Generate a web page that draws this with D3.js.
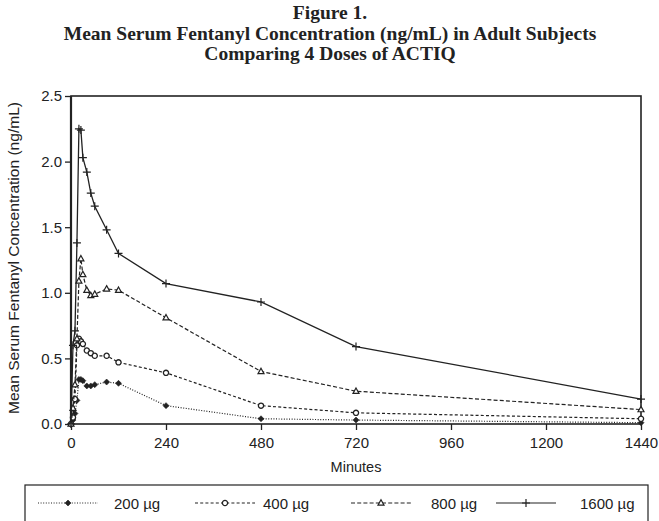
<!DOCTYPE html>
<html>
<head>
<meta charset="utf-8">
<script src="https://cdn.jsdelivr.net/npm/d3@7"></script>
<style>
  body { margin: 0; background: #fff; }
  svg text { fill: #222; }
</style>
</head>
<body>
<svg id="chart" width="659" height="521"></svg>
<script>
// Sampling times (minutes)
const minutes = [0, 5, 10, 15, 20, 25, 30, 40, 50, 60, 90, 120, 240, 480, 720, 1440];

// Mean serum fentanyl concentration (ng/mL) per dose
const dose200  = [0, 0.03, 0.08, 0.18, 0.34, 0.34, 0.33, 0.29, 0.29, 0.30, 0.32, 0.31, 0.14, 0.04, 0.03, 0.01];
const dose400  = [0, 0.05, 0.19, 0.60, 0.65, 0.63, 0.61, 0.56, 0.54, 0.52, 0.52, 0.47, 0.39, 0.14, 0.085, 0.04];
const dose800  = [0, 0.12, 0.30, 0.65, 1.09, 1.26, 1.14, 1.02, 0.98, 0.99, 1.03, 1.02, 0.81, 0.40, 0.25, 0.11];
const dose1600 = [0, 0.60, 0.71, 1.38, 2.25, 2.24, 2.03, 1.92, 1.76, 1.66, 1.48, 1.30, 1.07, 0.93, 0.59, 0.19];

const seriesNames = ["200 µg", "400 µg", "800 µg", "1600 µg"];
const seriesValues = [dose200, dose400, dose800, dose1600];

const xTicks = [0, 240, 480, 720, 960, 1200, 1440];
const yTicks = [0, 0.5, 1.0, 1.5, 2.0, 2.5];

// Set up dimensions and margins
const margin = { top: 96, right: 18, bottom: 97, left: 71 };
const width = 659 - margin.left - margin.right;
const height = 521 - margin.top - margin.bottom;

const ink = "#222";
const sans = "'Liberation Sans', Arial, sans-serif";
const dashes = ["1,1.6", "3,2.2", "4,2.2", null];
const shapes = ["diamond", "circle", "triangle", "plus"];

const root = d3.select("#chart");
const svg = root.append("g")
    .attr("transform", `translate(${margin.left},${margin.top})`);

// Scales
const x = d3.scaleLinear().domain([0, 1440]).range([0, width]);
const y = d3.scaleLinear().domain([0, 2.5]).range([height, 0]);

// Title
const titleLines = ["Figure 1.", "Mean Serum Fentanyl Concentration (ng/mL) in Adult Subjects", "Comparing 4 Doses of ACTIQ"];
root.selectAll(".title")
    .data(titleLines)
    .enter()
    .append("text")
    .attr("class", "title")
    .attr("x", 330)
    .attr("y", (d, i) => [19, 40, 59.5][i])
    .attr("text-anchor", "middle")
    .style("font-family", "'Liberation Serif', 'Times New Roman', serif")
    .style("font-weight", "bold")
    .style("font-size", "19.5px")
    .text(d => d);

// Axes
const xAxis = svg.append("g")
    .attr("transform", `translate(0,${height})`)
    .call(d3.axisBottom(x).tickValues(xTicks).tickSize(6).tickPadding(7).tickFormat(d3.format("d")));

const yAxis = svg.append("g")
    .call(d3.axisLeft(y).tickValues(yTicks).tickSize(6).tickPadding(3).tickFormat(d3.format(".1f")));

[xAxis, yAxis].forEach(a => {
    a.select(".domain").remove();
    a.selectAll("line").attr("stroke", ink).attr("stroke-width", 1.3);
    a.selectAll("text")
        .style("font-family", sans)
        .style("font-size", "15px")
        .attr("fill", "#333");
});

// Plot frame
svg.append("rect")
    .attr("x", 0).attr("y", 0)
    .attr("width", width).attr("height", height)
    .attr("fill", "none")
    .attr("stroke", ink)
    .attr("stroke-width", 1.6);
svg.append("line")
    .attr("x1", 0).attr("x2", 0).attr("y1", 0).attr("y2", height)
    .attr("stroke", ink).attr("stroke-width", 2.2);

// Axis labels
svg.append("text")
    .attr("x", width / 2)
    .attr("y", height + 48)
    .attr("text-anchor", "middle")
    .style("font-family", sans)
    .style("font-size", "14.5px")
    .text("Minutes");

svg.append("text")
    .attr("transform", "rotate(-90)")
    .attr("x", -height / 2 + 2)
    .attr("y", -margin.left + 19)
    .attr("text-anchor", "middle")
    .attr("textLength", 312)
    .attr("lengthAdjust", "spacingAndGlyphs")
    .style("font-family", sans)
    .style("font-size", "14.5px")
    .text("Mean Serum Fentanyl Concentration (ng/mL)");

// Marker drawing
function marker(g, shape) {
    if (shape === "diamond") {
        g.append("path").attr("d", "M0,-3L3,0L0,3L-3,0Z").attr("fill", ink).attr("stroke", ink).attr("stroke-width", 0.6);
    } else if (shape === "circle") {
        g.append("circle").attr("r", 2.6).attr("fill", "#fff").attr("stroke", ink).attr("stroke-width", 1.3);
    } else if (shape === "triangle") {
        g.append("path").attr("d", "M0,-3.2L3,2.2L-3,2.2Z").attr("fill", "#fff").attr("stroke", ink).attr("stroke-width", 1.2);
    } else {
        g.append("path").attr("d", "M-4,0H4M0,-4V4").attr("stroke", ink).attr("stroke-width", 1.2);
    }
}

const line = d3.line()
    .x(d => x(d.t))
    .y(d => y(d.v));

// Draw series
seriesValues.forEach((vals, i) => {
    const data = minutes.map((t, j) => ({ t: t, v: vals[j] }));
    svg.append("path")
        .datum(data)
        .attr("fill", "none")
        .attr("stroke", ink)
        .attr("stroke-width", i === 3 ? 1.3 : 1.2)
        .attr("stroke-dasharray", dashes[i])
        .attr("d", line);
    svg.selectAll(".m" + i)
        .data(data)
        .enter()
        .append("g")
        .attr("class", "m" + i)
        .attr("transform", d => `translate(${x(d.t)},${y(d.v)})`)
        .each(function () { marker(d3.select(this), shapes[i]); });
});

// Legend
const legend = root.append("g");
legend.append("rect")
    .attr("x", 25).attr("y", 485)
    .attr("width", 623).attr("height", 45)
    .attr("fill", "none")
    .attr("stroke", ink)
    .attr("stroke-width", 1.2);

const legendLineX = [38, 195, 351, 496];
const legendTextX = [114, 263, 431, 580];
seriesNames.forEach((name, i) => {
    const g = legend.append("g");
    g.append("line")
        .attr("x1", legendLineX[i]).attr("x2", legendLineX[i] + 60)
        .attr("y1", 503).attr("y2", 503)
        .attr("stroke", ink)
        .attr("stroke-width", 1.2)
        .attr("stroke-dasharray", dashes[i]);
    marker(g.append("g").attr("transform", `translate(${legendLineX[i] + 30},503)`), shapes[i]);
    g.append("text")
        .attr("x", legendTextX[i])
        .attr("y", 508.5)
        .style("font-family", sans)
        .style("font-size", "15px")
        .text(name);
});
</script>
</body>
</html>
